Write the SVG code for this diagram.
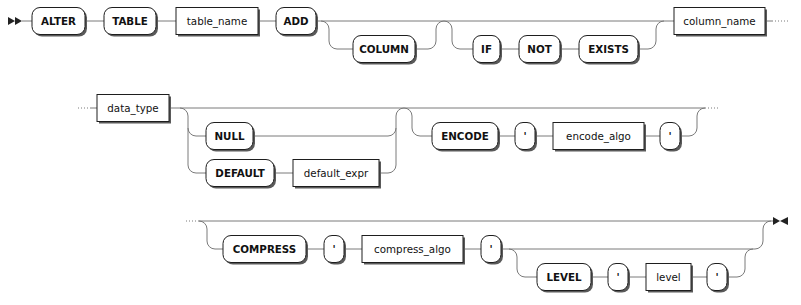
<svg xmlns="http://www.w3.org/2000/svg" width="801" height="305" viewBox="0 0 801 305">
<style>
.line{fill:none;stroke:#7a7a7a;stroke-width:1}
.dots{fill:none;stroke:#7a7a7a;stroke-width:1;stroke-dasharray:1 2}
.mark{fill:#222;stroke:none}
.sh{fill:#5a5a5a;stroke:none}
.box{fill:#fff;stroke:#1e1e1e;stroke-width:1}
.t{font-family:"DejaVu Sans",Verdana,sans-serif;font-size:10.3px;font-weight:bold;fill:#111;text-anchor:middle}
.n{font-family:"DejaVu Sans",Verdana,sans-serif;font-size:10.3px;fill:#111;text-anchor:middle}
</style>
<rect width="801" height="305" fill="#fff"/>
<g id="connectors">
<!-- row 1 -->
<path class="mark" d="M8 17 L15 21 L8 25 Z M15 17 L22 21 L15 25 Z"/>
<path class="line" d="M22 21 H32 M85 21 H104 M156 21 H176 M258 21 H276 M316 21 H674 M767 21 H772"/>
<path class="line" d="M321 21 a8 8 0 0 1 8 8 V41 a8 8 0 0 0 8 8 H353 M415 49 H428 a8 8 0 0 0 8 -8 V29 a8 8 0 0 1 8 -8"/>
<path class="line" d="M444 21 a8 8 0 0 1 8 8 V41 a8 8 0 0 0 8 8 H473 M500 49 H519 M560 49 H579 M638 49 H648 a8 8 0 0 0 8 -8 V29 a8 8 0 0 1 8 -8"/>
<path class="dots" d="M772 21 H789"/>
<!-- row 2 -->
<path class="dots" d="M78 108 H91"/>
<path class="line" d="M91 108 H97 M169 108 H705"/>
<path class="line" d="M180 108 a8 8 0 0 1 8 8 V165 a8 8 0 0 0 8 8 H206 M188 128 a8 8 0 0 0 8 8 H206"/>
<path class="line" d="M253 136 H388 a8 8 0 0 0 8 -8 V116 a8 8 0 0 1 8 -8 M274 173 H293 M379 173 H388 a8 8 0 0 0 8 -8 V128"/>
<path class="line" d="M404 108 a8 8 0 0 1 8 8 V128 a8 8 0 0 0 8 8 H432 M498 136 H515 M535 136 H553 M646 136 H660 M680 136 H689 a8 8 0 0 0 8 -8 V116 a8 8 0 0 1 8 -8"/>
<path class="dots" d="M705 108 H720"/>
<!-- row 3 -->
<path class="dots" d="M186 221 H198"/>
<path class="line" d="M198 221 H773"/>
<path class="line" d="M199 221 a8 8 0 0 1 8 8 V241 a8 8 0 0 0 8 8 H223 M306 249 H324 M344 249 H362 M463 249 H481 M501 249 H755 a8 8 0 0 0 8 -8 V229 a8 8 0 0 1 8 -8"/>
<path class="line" d="M509 249 a8 8 0 0 1 8 8 V269 a8 8 0 0 0 8 8 H537 M591 277 H608 M628 277 H646 M691 277 H707 M727 277 H737 a8 8 0 0 0 8 -8 V257 a8 8 0 0 1 8 -8"/>
<path class="mark" d="M773 217 L780 221 L773 225 Z M788 217 L780 221 L788 225 Z"/>
</g>
<g id="n-alter"><rect class="sh" x="34" y="9.5" width="53" height="27" rx="8"/><rect class="box" x="32" y="7.5" width="53" height="27" rx="8"/><text class="t" x="58.5" y="25">ALTER</text></g>
<g id="n-table"><rect class="sh" x="106" y="9.5" width="52" height="27" rx="8"/><rect class="box" x="104" y="7.5" width="52" height="27" rx="8"/><text class="t" x="130" y="25">TABLE</text></g>
<g id="n-table_name"><rect class="sh" x="178" y="9.5" width="82" height="27"/><rect class="box" x="176" y="7.5" width="82" height="27"/><text class="n" x="217" y="25">table_name</text></g>
<g id="n-add"><rect class="sh" x="278" y="9.5" width="40" height="27" rx="8"/><rect class="box" x="276" y="7.5" width="40" height="27" rx="8"/><text class="t" x="296" y="25">ADD</text></g>
<g id="n-column"><rect class="sh" x="355" y="37.5" width="62" height="27" rx="8"/><rect class="box" x="353" y="35.5" width="62" height="27" rx="8"/><text class="t" x="384" y="53">COLUMN</text></g>
<g id="n-if"><rect class="sh" x="475" y="37.5" width="27" height="27" rx="8"/><rect class="box" x="473" y="35.5" width="27" height="27" rx="8"/><text class="t" x="486.5" y="53">IF</text></g>
<g id="n-not"><rect class="sh" x="521" y="37.5" width="41" height="27" rx="8"/><rect class="box" x="519" y="35.5" width="41" height="27" rx="8"/><text class="t" x="539.5" y="53">NOT</text></g>
<g id="n-exists"><rect class="sh" x="581" y="37.5" width="59" height="27" rx="8"/><rect class="box" x="579" y="35.5" width="59" height="27" rx="8"/><text class="t" x="608.5" y="53">EXISTS</text></g>
<g id="n-column_name"><rect class="sh" x="676" y="9.5" width="91" height="27"/><rect class="box" x="674" y="7.5" width="91" height="27"/><text class="n" x="719.5" y="25">column_name</text></g>
<g id="n-data_type"><rect class="sh" x="99" y="96.5" width="72" height="27"/><rect class="box" x="97" y="94.5" width="72" height="27"/><text class="n" x="133" y="112">data_type</text></g>
<g id="n-null"><rect class="sh" x="208" y="124.5" width="47" height="27" rx="8"/><rect class="box" x="206" y="122.5" width="47" height="27" rx="8"/><text class="t" x="229.5" y="140">NULL</text></g>
<g id="n-default"><rect class="sh" x="208" y="161.5" width="68" height="27" rx="8"/><rect class="box" x="206" y="159.5" width="68" height="27" rx="8"/><text class="t" x="240" y="177">DEFAULT</text></g>
<g id="n-default_expr"><rect class="sh" x="295" y="161.5" width="86" height="27"/><rect class="box" x="293" y="159.5" width="86" height="27"/><text class="n" x="336" y="177">default_expr</text></g>
<g id="n-encode"><rect class="sh" x="434" y="124.5" width="66" height="27" rx="8"/><rect class="box" x="432" y="122.5" width="66" height="27" rx="8"/><text class="t" x="465" y="140">ENCODE</text></g>
<g id="n-q1"><rect class="sh" x="517" y="124.5" width="20" height="27" rx="8"/><rect class="box" x="515" y="122.5" width="20" height="27" rx="8"/><text class="t" x="525" y="140">'</text></g>
<g id="n-encode_algo"><rect class="sh" x="555" y="124.5" width="91" height="27"/><rect class="box" x="553" y="122.5" width="91" height="27"/><text class="n" x="598.5" y="140">encode_algo</text></g>
<g id="n-q2"><rect class="sh" x="662" y="124.5" width="20" height="27" rx="8"/><rect class="box" x="660" y="122.5" width="20" height="27" rx="8"/><text class="t" x="670" y="140">'</text></g>
<g id="n-compress"><rect class="sh" x="225" y="237.5" width="83" height="27" rx="8"/><rect class="box" x="223" y="235.5" width="83" height="27" rx="8"/><text class="t" x="264.5" y="253">COMPRESS</text></g>
<g id="n-q3"><rect class="sh" x="326" y="237.5" width="20" height="27" rx="8"/><rect class="box" x="324" y="235.5" width="20" height="27" rx="8"/><text class="t" x="334" y="253">'</text></g>
<g id="n-compress_algo"><rect class="sh" x="364" y="237.5" width="101" height="27"/><rect class="box" x="362" y="235.5" width="101" height="27"/><text class="n" x="412.5" y="253">compress_algo</text></g>
<g id="n-q4"><rect class="sh" x="483" y="237.5" width="20" height="27" rx="8"/><rect class="box" x="481" y="235.5" width="20" height="27" rx="8"/><text class="t" x="491" y="253">'</text></g>
<g id="n-level-kw"><rect class="sh" x="539" y="265.5" width="54" height="27" rx="8"/><rect class="box" x="537" y="263.5" width="54" height="27" rx="8"/><text class="t" x="564" y="281">LEVEL</text></g>
<g id="n-q5"><rect class="sh" x="610" y="265.5" width="20" height="27" rx="8"/><rect class="box" x="608" y="263.5" width="20" height="27" rx="8"/><text class="t" x="618" y="281">'</text></g>
<g id="n-level"><rect class="sh" x="648" y="265.5" width="45" height="27"/><rect class="box" x="646" y="263.5" width="45" height="27"/><text class="n" x="668.5" y="281">level</text></g>
<g id="n-q6"><rect class="sh" x="709" y="265.5" width="20" height="27" rx="8"/><rect class="box" x="707" y="263.5" width="20" height="27" rx="8"/><text class="t" x="717" y="281">'</text></g>
</svg>
